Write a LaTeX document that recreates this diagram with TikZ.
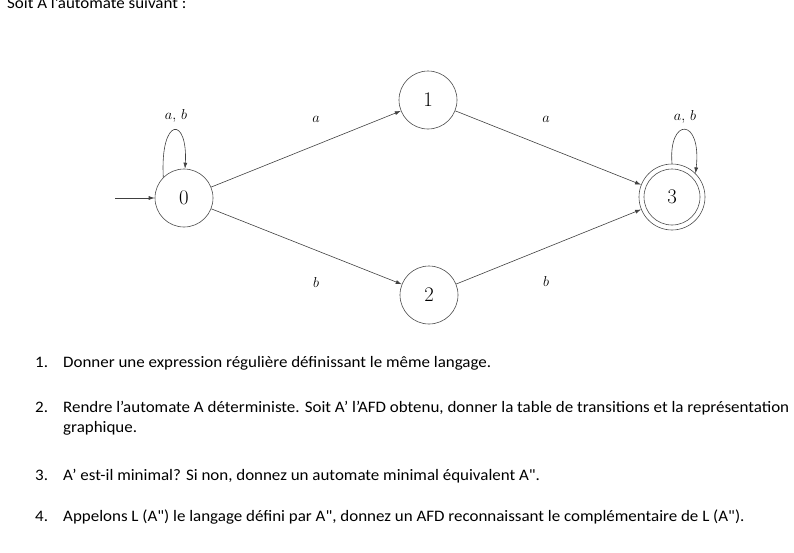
\documentclass[tikz,border=0pt]{standalone}
\usepackage{fontspec}
\usepackage{graphicx}
\setmainfont{Carlito}[Ligatures=TeXOff]
\usetikzlibrary{arrows.meta}
\newcommand{\wide}[1]{\scalebox{1.06}[1]{#1}}
\begin{document}
\begin{tikzpicture}[x=1pt,y=-1pt,
  state/.style={circle,draw=black!70,line width=0.6pt,minimum size=58pt,inner sep=0pt,font=\fontsize{20}{20}\selectfont},
  edge/.style={draw=black!75,line width=0.6pt,-{Latex[length=6pt,width=4pt]}},
  lbl/.style={inner sep=0pt,font=\fontsize{15}{15}\selectfont},
  txt/.style={anchor=base west,inner sep=0pt,font=\fontsize{16}{18}\selectfont}]
\useasboundingbox (0,0) rectangle (794,552);
% states
\node[state] (q0) at (184,198) {$0$};
\node[state] (q1) at (428,100) {$1$};
\node[state] (q2) at (429,295) {$2$};
\node[state,minimum size=66pt] (q3) at (672,197) {$3$};
\draw[draw=black!70,line width=0.6pt] (q3.center) circle (28pt);
% initial
\coordinate (init) at (115,198);
\draw[edge] (init) -- (q0);
% transitions
\draw[edge] (q0) -- (q1);
\draw[edge] (q1) -- (q3);
\draw[edge] (q0) -- (q2);
\draw[edge] (q2) -- (q3);
\draw[edge] (q0.135) .. controls (160,116) and (188,116) .. (q0.88);
\draw[edge] (q3.90) .. controls (668,117) and (702,117) .. (q3.45);
% labels
\node[lbl] (l00) at (176,116) {$a,\,b$};
\node[lbl] (l33) at (685,117) {$a,\,b$};
\node[lbl] (l01) at (316,119) {$a$};
\node[lbl] (l13) at (546,119) {$a$};
\node[lbl] (l02) at (316,282) {$b$};
\node[lbl] (l23) at (546,281) {$b$};
% text
\node[txt] (t0) at (7,8) {\wide{Soit A l’automate suivant :}};
\node[txt] (n1) at (35,367) {\wide{1.}};
\node[txt] (i1) at (63,367) {\wide{Donner une expression régulière définissant le même langage.}};
\node[txt] (n2) at (35,412) {\wide{2.}};
\node[txt] (i2) at (63,412) {\wide{Rendre l’automate A déterministe. Soit A’ l’AFD obtenu, donner la table de transitions et la représentation}};
\node[txt] (i2b) at (63,432) {\wide{graphique.}};
\node[txt] (n3) at (35,480) {\wide{3.}};
\node[txt] (i3) at (63,480) {\wide{A’ est-il minimal? Si non, donnez un automate minimal équivalent A".}};
\node[txt] (n4) at (35,521) {\wide{4.}};
\node[txt] (i4) at (63,521) {\wide{Appelons L (A") le langage défini par A", donnez un AFD reconnaissant le complémentaire de L (A").}};
\end{tikzpicture}
\end{document}
